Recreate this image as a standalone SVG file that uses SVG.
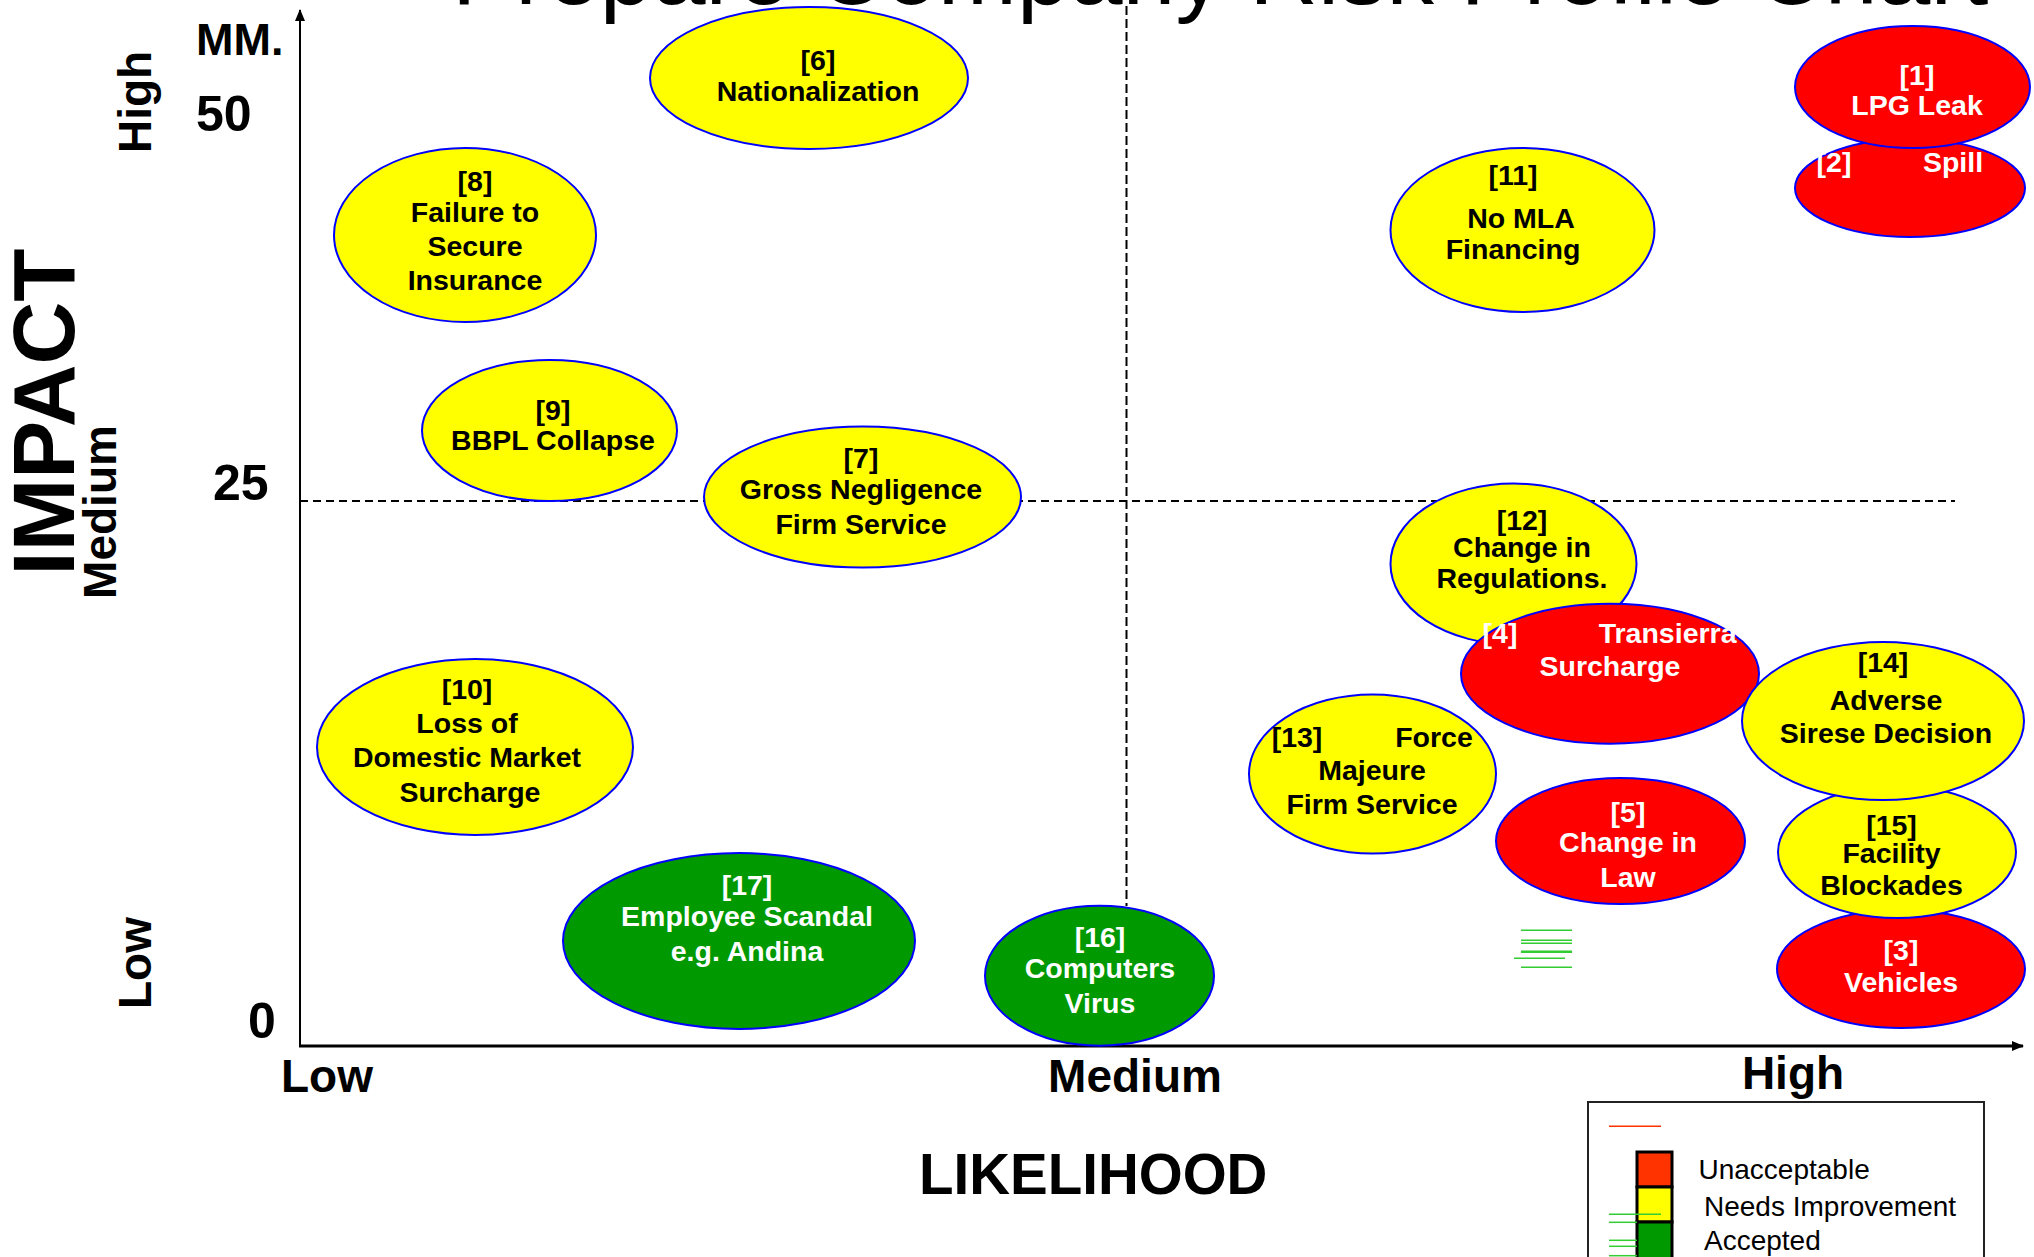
<svg xmlns="http://www.w3.org/2000/svg" width="2034" height="1257" viewBox="0 0 2034 1257">
<style>
  text { font-family: "Liberation Sans", Arial, sans-serif; }
  .n { font-size: 28.5px; font-weight: bold; text-anchor: middle; }
  .blk { fill: #000; }
  .wht { fill: #fff; }
  .y { fill: #ffff00; stroke: #0000ff; stroke-width: 2; }
  .r { fill: #ff0000; stroke: #0000ff; stroke-width: 2; }
  .g { fill: #009900; stroke: #0000ff; stroke-width: 2; }
  .ax { font-size: 46px; font-weight: bold; fill: #000; }
  .num { font-size: 50px; font-weight: bold; fill: #000; }
  .lg { font-size: 28px; fill: #000; }
  .gl { stroke: #33cc33; stroke-width: 1.5; }
</style>
<defs>
  <marker id="arr" viewBox="0 0 12 10" refX="11" refY="5" markerWidth="12" markerHeight="10" markerUnits="userSpaceOnUse" orient="auto">
    <path d="M0,0 L12,5 L0,10 z" fill="#000"/>
  </marker>
</defs>
<rect width="2034" height="1257" fill="#fff"/>

<text x="452" y="4" style="font-size:95px;fill:#000">Prepare Company Risk Profile Chart</text>

<g id="axes">
  <line x1="300" y1="501" x2="1955" y2="501" stroke="#000" stroke-width="2" stroke-dasharray="8,5"/>
  <line x1="1126.5" y1="6" x2="1126.5" y2="906" stroke="#000" stroke-width="2" stroke-dasharray="9,4"/>
  <line x1="300" y1="1046" x2="300" y2="10" stroke="#000" stroke-width="2" marker-end="url(#arr)"/>
  <line x1="299" y1="1046" x2="2023" y2="1046" stroke="#000" stroke-width="3" marker-end="url(#arr)"/>
</g>

<g id="axis-labels">
  <text transform="translate(74,412) rotate(-90)" style="font-size:87px;font-weight:bold;text-anchor:middle;fill:#000">IMPACT</text>
  <text class="ax" transform="translate(151,102) rotate(-90)" text-anchor="middle">High</text>
  <text class="ax" transform="translate(116,512) rotate(-90)" text-anchor="middle">Medium</text>
  <text class="ax" transform="translate(151,963) rotate(-90)" text-anchor="middle">Low</text>
  <text x="196" y="55" style="font-size:45px;font-weight:bold;fill:#000">MM.</text>
  <text class="num" x="196" y="131">50</text>
  <text class="num" x="213" y="500">25</text>
  <text class="num" x="248" y="1038">0</text>
  <text class="ax" x="281" y="1092">Low</text>
  <text class="ax" x="1135" y="1092" text-anchor="middle">Medium</text>
  <text class="ax" x="1793" y="1089" text-anchor="middle">High</text>
  <text x="919" y="1194" style="font-size:56.5px;font-weight:bold;fill:#000">LIKELIHOOD</text>
</g>

<g id="node-6">
  <ellipse class="y" cx="809" cy="78" rx="159" ry="71"/>
  <text class="n blk" x="818" y="70">[6]</text>
  <text class="n blk" x="818" y="101">Nationalization</text>
</g>
<g id="node-8">
  <ellipse class="y" cx="465" cy="235" rx="131" ry="87"/>
  <text class="n blk" x="475" y="191">[8]</text>
  <text class="n blk" x="475" y="222">Failure to</text>
  <text class="n blk" x="475" y="256">Secure</text>
  <text class="n blk" x="475" y="290">Insurance</text>
</g>
<g id="node-9">
  <ellipse class="y" cx="549.5" cy="430.5" rx="127.5" ry="70.5"/>
  <text class="n blk" x="553" y="420">[9]</text>
  <text class="n blk" x="553" y="450">BBPL Collapse</text>
</g>
<g id="node-7">
  <ellipse class="y" cx="862.5" cy="497" rx="158.5" ry="70.5"/>
  <text class="n blk" x="861" y="468">[7]</text>
  <text class="n blk" x="861" y="499">Gross Negligence</text>
  <text class="n blk" x="861" y="534">Firm Service</text>
</g>
<g id="node-10">
  <ellipse class="y" cx="475" cy="747" rx="158" ry="88"/>
  <text class="n blk" x="467" y="699">[10]</text>
  <text class="n blk" x="467" y="733">Loss of</text>
  <text class="n blk" x="467" y="767">Domestic Market</text>
  <text class="n blk" x="470" y="802">Surcharge</text>
</g>
<g id="node-17">
  <ellipse class="g" cx="739" cy="941" rx="176" ry="88"/>
  <text class="n wht" x="747" y="895">[17]</text>
  <text class="n wht" x="747" y="926">Employee Scandal</text>
  <text class="n wht" x="747" y="961">e.g. Andina</text>
</g>
<g id="node-16">
  <ellipse class="g" cx="1099.5" cy="975.7" rx="114.5" ry="70"/>
  <text class="n wht" x="1100" y="946.5">[16]</text>
  <text class="n wht" x="1100" y="978">Computers</text>
  <text class="n wht" x="1100" y="1012.5">Virus</text>
</g>
<g id="node-11">
  <ellipse class="y" cx="1522.5" cy="230" rx="132" ry="82"/>
  <text class="n blk" x="1513" y="185">[11]</text>
  <text class="n blk" x="1521" y="228">No MLA</text>
  <text class="n blk" x="1513" y="259">Financing</text>
</g>
<g id="node-2">
  <ellipse class="r" cx="1910" cy="188" rx="115" ry="49"/>
  <text class="n wht" x="1834" y="171.5">[2]</text>
  <text class="n wht" x="1953" y="171.5">Spill</text>
</g>
<g id="node-1">
  <ellipse class="r" cx="1912.5" cy="87" rx="117.5" ry="61"/>
  <text class="n wht" x="1917" y="85">[1]</text>
  <text class="n wht" x="1917" y="115">LPG Leak</text>
</g>
<g id="node-12">
  <ellipse class="y" cx="1513.5" cy="564" rx="123" ry="80.5"/>
  <text class="n blk" x="1522" y="530">[12]</text>
  <text class="n blk" x="1522" y="557">Change in</text>
  <text class="n blk" x="1522" y="588">Regulations.</text>
</g>
<g id="node-4">
  <ellipse class="r" cx="1610" cy="673.7" rx="149" ry="70"/>
  <text class="n wht" x="1500" y="643">[4]</text>
  <text class="n wht" x="1598.7" y="643" style="text-anchor:start">Transierra</text>
  <text class="n wht" x="1610" y="675.5">Surcharge</text>
</g>
<g id="node-13">
  <ellipse class="y" cx="1372.5" cy="774" rx="123.5" ry="79.5"/>
  <text class="n blk" x="1297" y="746.5">[13]</text>
  <text class="n blk" x="1434" y="746.5">Force</text>
  <text class="n blk" x="1372" y="780">Majeure</text>
  <text class="n blk" x="1372" y="814">Firm Service</text>
</g>
<g id="node-5">
  <ellipse class="r" cx="1620.5" cy="841" rx="124.5" ry="63"/>
  <text class="n wht" x="1628" y="821.5">[5]</text>
  <text class="n wht" x="1628" y="851.5">Change in</text>
  <text class="n wht" x="1628" y="886.5">Law</text>
</g>
<g id="node-3">
  <ellipse class="r" cx="1901" cy="969" rx="124" ry="59"/>
  <text class="n wht" x="1901" y="960">[3]</text>
  <text class="n wht" x="1901" y="991.5">Vehicles</text>
</g>
<g id="node-15">
  <ellipse class="y" cx="1897" cy="852" rx="119" ry="66"/>
  <text class="n blk" x="1891.5" y="835">[15]</text>
  <text class="n blk" x="1891.5" y="863">Facility</text>
  <text class="n blk" x="1891.5" y="895">Blockades</text>
</g>
<g id="node-14">
  <ellipse class="y" cx="1883" cy="721" rx="141" ry="79"/>
  <text class="n blk" x="1883" y="671.5">[14]</text>
  <text class="n blk" x="1886" y="710">Adverse</text>
  <text class="n blk" x="1886" y="743">Sirese Decision</text>
</g>

<g id="green-marks">
  <line class="gl" x1="1521" y1="930.3" x2="1572" y2="930.3"/>
  <line class="gl" x1="1521" y1="940.3" x2="1572" y2="940.3"/>
  <line class="gl" x1="1521" y1="943.3" x2="1572" y2="943.3"/>
  <line x1="1521" y1="951.7" x2="1572" y2="951.7" stroke="#33cc33" stroke-width="2.5"/>
  <line class="gl" x1="1514" y1="958.3" x2="1565" y2="958.3"/>
  <line class="gl" x1="1521" y1="967.3" x2="1572" y2="967.3"/>
</g>

<g id="legend">
  <rect x="1588" y="1102" width="396" height="200" fill="#fff" stroke="#222" stroke-width="2"/>
  <line x1="1609" y1="1126.3" x2="1661" y2="1126.3" stroke="#ff3300" stroke-width="1.5"/>
  <rect x="1637" y="1152" width="35" height="35" fill="#ff3300" stroke="#000" stroke-width="3"/>
  <rect x="1637" y="1187" width="35" height="35" fill="#ffff00" stroke="#000" stroke-width="3"/>
  <rect x="1637" y="1222" width="35" height="50" fill="#009900" stroke="#000" stroke-width="3"/>
  <line class="gl" x1="1609" y1="1214.3" x2="1661" y2="1214.3"/>
  <line class="gl" x1="1609" y1="1222.3" x2="1637" y2="1222.3"/>
  <line class="gl" x1="1609" y1="1240.3" x2="1637" y2="1240.3"/>
  <line class="gl" x1="1609" y1="1246.3" x2="1637" y2="1246.3"/>
  <line class="gl" x1="1609" y1="1255.7" x2="1637" y2="1255.7"/>
  <text class="lg" x="1698.5" y="1179">Unacceptable</text>
  <text class="lg" x="1704" y="1215.5">Needs Improvement</text>
  <text class="lg" x="1704" y="1250">Accepted</text>
</g>
</svg>
